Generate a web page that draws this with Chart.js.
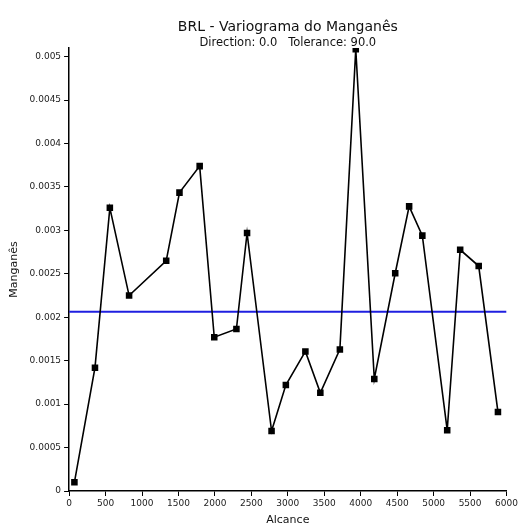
<!DOCTYPE html>
<html>
<head>
<meta charset="utf-8">
<script src="https://cdn.jsdelivr.net/npm/chart.js@4/dist/chart.umd.min.js"></script>
<style>
  html, body { margin: 0; padding: 0; background: #fff; }
  #wrap { width: 520px; height: 527px; }
</style>
</head>
<body>
<div id="wrap"><canvas id="canvas"></canvas></div>
<script>
// lag distances (Alcance) and variogram values (Manganês)
var lags = [73, 355, 559, 823, 1332, 1514, 1791, 1991, 2295, 2441, 2777, 2973,
  3241, 3446, 3714, 3932, 4186, 4473, 4664, 4845, 5186, 5364, 5618, 5882];
var gamma = [0.0001, 0.00142, 0.00326, 0.00225, 0.00265, 0.003435, 0.00374, 0.00177,
  0.001865, 0.00297, 0.00069, 0.00122, 0.001607, 0.00113, 0.00163, 0.005085,
  0.00129, 0.002507, 0.003277, 0.00294, 0.0007, 0.002777, 0.00259, 0.00091];
var sill = 0.002065;
var xTicks = [0, 500, 1000, 1500, 2000, 2500, 3000, 3500, 4000, 4500, 5000, 5500, 6000];
var yTicks = [0, 0.0005, 0.001, 0.0015, 0.002, 0.0025, 0.003, 0.0035, 0.004, 0.0045, 0.005];
var yTickLabels = ["0", "0.0005", "0.001", "0.0015", "0.002", "0.0025", "0.003", "0.0035", "0.004", "0.0045", "0.005"];
var titleText = "BRL - Variograma do Manganês";
var subtitleText = "Direction: 0.0   Tolerance: 90.0";

var points = lags.map(function (x, i) {
  return { x: x, y: gamma[i] };
});

// title + subtitle centred over the plot area (not over the whole canvas)
var titlePlugin = {
  id: "plotTitle",
  afterDraw: function (chart) {
    var c = chart.ctx;
    var a = chart.chartArea;
    var cx = (a.left + a.right) / 2;
    c.save();
    c.fillStyle = "#111";
    c.textAlign = "center";
    c.textBaseline = "middle";
    c.font = "14px 'DejaVu Sans'";
    c.fillText(titleText, cx, a.top - 20.5);
    c.font = "11.5px 'DejaVu Sans'";
    c.fillText(subtitleText, cx, a.top - 5);
    c.restore();
  },
};

var ctx = document.getElementById("canvas");

var chart = new Chart(ctx, {
  type: "scatter",
  data: {
    datasets: [
      {
        label: "Variograma",
        data: points,
        showLine: true,
        borderColor: "#000",
        borderWidth: 1.6,
        backgroundColor: "#000",
        pointStyle: "rect",
        pointRadius: 3.5,
        tension: 0,
      },
      {
        label: "Sill",
        data: [{ x: 0, y: sill }, { x: 6000, y: sill }],
        showLine: true,
        borderColor: "#1f1fe0",
        borderWidth: 2,
        pointRadius: 0,
      },
    ],
  },
  plugins: [titlePlugin],
  options: {
    responsive: true,
    maintainAspectRatio: false,
    animation: false,
    layout: { padding: { left: 2, right: 8, top: 48, bottom: 0 } },
    plugins: {
      legend: { display: false },
      tooltip: { enabled: false },
      title: { display: false },
    },
    scales: {
      x: {
        type: "linear",
        min: 0,
        max: 6000,
        afterBuildTicks: function (scale) {
          scale.ticks = xTicks.map(function (v) { return { value: v }; });
        },
        ticks: {
          color: "#222",
          font: { family: "DejaVu Sans", size: 9 },
          maxRotation: 0,
          padding: 2,
          callback: function (value) {
            return String(value);
          },
        },
        grid: {
          drawOnChartArea: false,
          color: "#000",
          tickLength: 5,
          tickColor: "#000",
        },
        border: { color: "#000", width: 1.5 },
        title: {
          display: true,
          text: "Alcance",
          color: "#111",
          font: { family: "DejaVu Sans", size: 11 },
          padding: { top: 3, bottom: 0 },
        },
      },
      y: {
        type: "linear",
        min: 0,
        max: 0.0051,
        afterBuildTicks: function (scale) {
          scale.ticks = yTicks.map(function (v) { return { value: v }; });
        },
        ticks: {
          color: "#222",
          font: { family: "DejaVu Sans", size: 9 },
          padding: 3,
          callback: function (value) {
            var i = yTicks.indexOf(value);
            return i >= 0 ? yTickLabels[i] : "";
          },
        },
        grid: {
          drawOnChartArea: false,
          color: "#000",
          tickLength: 5,
          tickColor: "#000",
        },
        border: { color: "#000", width: 1.5 },
        title: {
          display: true,
          text: "Manganês",
          color: "#111",
          font: { family: "DejaVu Sans", size: 11 },
          padding: { top: 6, bottom: 5.4 },
        },
      },
    },
  },
});
</script>
</body>
</html>
